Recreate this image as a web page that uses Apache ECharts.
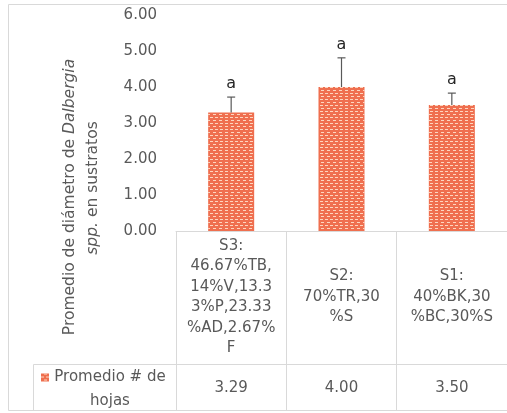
<!DOCTYPE html>
<html><head><meta charset="utf-8">
<script src="https://cdn.jsdelivr.net/npm/echarts@6/dist/echarts.min.js"></script>
<style>html,body{margin:0;padding:0;background:#fff}#c{width:507px;height:413px}</style>
</head><body><div id="c"></div>
<script>
const categories = ['S3:\n46.67%TB,\n14%V,13.3\n3%P,23.33\n%AD,2.67%\nF', 'S2:\n70%TR,30\n%S', 'S1:\n40%BK,30\n%BC,30%S'];
const values = [3.29, 4.00, 3.50];
const errors = [0.43, 0.81, 0.33];
const letters = ['a', 'a', 'a'];
const yTicks = [0, 1, 2, 3, 4, 5, 6];
const seriesName = 'Promedio # de hojas';

const FONT = 'DejaVu Sans';
const GRAY = '#595959';
const LINE = '#d9d9d9';
const BAR = '#EF6F4F';
const decal = {
  color: 'rgba(255,232,210,0.85)',
  symbol: 'rect',
  symbolSize: 1,
  dashArrayX: [[3, 2], [0, 2.5, 3, -0.5]],
  dashArrayY: [1, 2],
  rotation: 0
};

const chart = echarts.init(document.getElementById('c'), null, {renderer: 'canvas'});
chart.setOption({
  animation: false,
  backgroundColor: '#fff',
  grid: {left: 176, right: -8, top: 15, bottom: 182, containLabel: false},
  legend: {
    show: true,
    left: 41, top: 346, padding: 0,
    itemWidth: 8, itemHeight: 8, itemGap: 0,
    icon: 'rect',
    data: [seriesName],
    formatter: function () { return '{a| }\n{a|Promedio # de}\n{a|hojas}'; },
    textStyle: {
      color: GRAY, fontFamily: FONT, fontSize: 15,
      rich: {a: {width: 112, align: 'center', lineHeight: 24, fontSize: 15, fontFamily: FONT, color: GRAY}}
    },
    itemStyle: {color: BAR, decal: decal}
  },
  xAxis: [{
    type: 'category',
    data: categories,
    position: 'bottom',
    axisLine: {show: true, lineStyle: {color: LINE, width: 1}},
    axisTick: {show: true, length: 180, interval: 0, lineStyle: {color: LINE, width: 1}},
    axisLabel: {
      interval: 0, margin: 66, verticalAlign: 'middle',
      color: GRAY, fontFamily: FONT, fontSize: 15, lineHeight: 20.5, align: 'center'
    },
    splitLine: {show: false}
  }, {
    type: 'category',
    data: values.map(v => v.toFixed(2)),
    position: 'bottom',
    axisLine: {show: false},
    axisTick: {show: false},
    axisLabel: {interval: 0, margin: 157, verticalAlign: 'middle', color: GRAY, fontFamily: FONT, fontSize: 15}
  }],
  yAxis: {
    type: 'value', min: yTicks[0], max: yTicks[yTicks.length - 1], interval: 1,
    axisLine: {show: false}, axisTick: {show: false}, splitLine: {show: false},
    axisLabel: {margin: 19, color: GRAY, fontFamily: FONT, fontSize: 15, formatter: v => v.toFixed(2)}
  },
  series: [{
    name: seriesName,
    type: 'bar',
    xAxisIndex: 0,
    data: values,
    barWidth: 46,
    itemStyle: {color: BAR, decal: decal}
  }, {
    name: 'err',
    type: 'custom',
    xAxisIndex: 0,
    data: values.map((v, i) => [i, v, v + errors[i]]),
    renderItem: function (params, api) {
      const x = api.coord([api.value(0), api.value(1)])[0];
      const yb = api.coord([api.value(0), api.value(1)])[1];
      const yt = api.coord([api.value(0), api.value(2)])[1];
      const idx = params.dataIndex;
      return {
        type: 'group',
        children: [
          {type: 'line', shape: {x1: x, y1: yb, x2: x, y2: yt}, style: {stroke: GRAY, lineWidth: 1.2}},
          {type: 'line', shape: {x1: x - 4, y1: yt, x2: x + 4, y2: yt}, style: {stroke: GRAY, lineWidth: 1.2}},
          {type: 'text', x: x, y: yt - 13, style: {text: letters[idx], fill: '#262626', font: '16px ' + FONT, align: 'center', verticalAlign: 'middle'}}
        ]
      };
    },
    z: 5
  }],
  graphic: [
    {type: 'rect', shape: {x: 8.5, y: 4.5, width: 520, height: 406}, style: {fill: 'none', stroke: LINE, lineWidth: 1}, silent: true},
    {type: 'line', shape: {x1: 33.5, y1: 364.5, x2: 520, y2: 364.5}, style: {stroke: LINE, lineWidth: 1}, silent: true},
    {type: 'line', shape: {x1: 33.5, y1: 364.5, x2: 33.5, y2: 410.5}, style: {stroke: LINE, lineWidth: 1}, silent: true},
    {type: 'text', rotation: Math.PI / 2, x: 70, y: 197,
      style: {text: 'Promedio de diámetro de {i|Dalbergia}', fill: GRAY, font: '15.5px "DejaVu Sans"', align: 'center', verticalAlign: 'middle',
        rich: {i: {fontStyle: 'italic', fontFamily: 'DejaVu Sans', fontSize: 15.5, fill: GRAY}}}},
    {type: 'text', rotation: Math.PI / 2, x: 93, y: 188,
      style: {text: '{i|spp.} en sustratos', fill: GRAY, font: '15.5px "DejaVu Sans"', align: 'center', verticalAlign: 'middle',
        rich: {i: {fontStyle: 'italic', fontFamily: 'DejaVu Sans', fontSize: 15.5, fill: GRAY}}}}
  ]
});
</script></body></html>
